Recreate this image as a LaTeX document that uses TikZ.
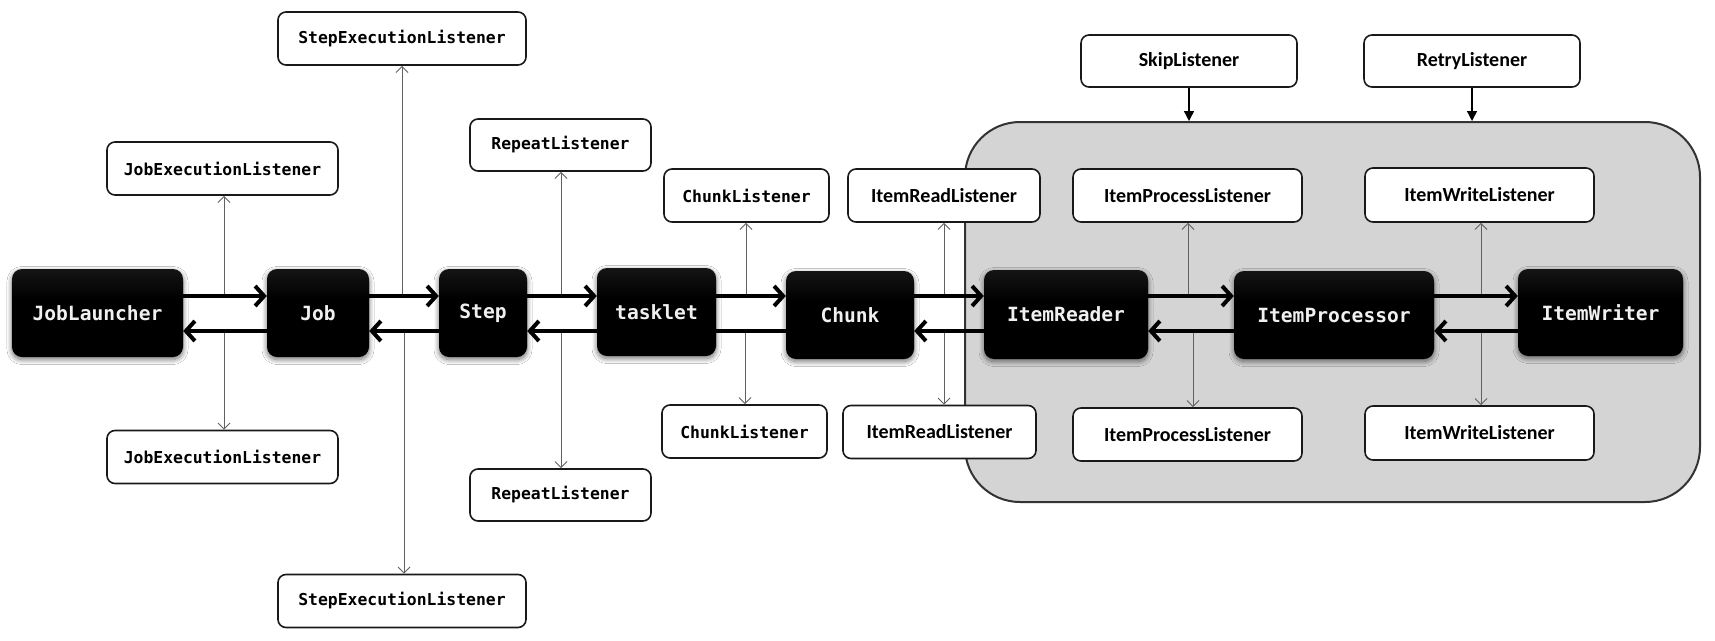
\documentclass[tikz,border=0pt]{standalone}
\usepackage{fontspec}
\setmonofont{DejaVu Sans Mono}
\newfontfamily\calfont{Carlito}
\usetikzlibrary{arrows.meta,shadows.blur}
\pgfdeclareverticalshading{darkshade}{100bp}{color(0bp)=(black); color(58bp)=(black); color(100bp)=(black!80)}
\begin{document}
\begin{tikzpicture}[x=1pt,y=-1pt,
  darkbox/.style={rounded corners=10pt, shading=darkshade, inner sep=0pt,
    text=white!94!black, font=\ttfamily\bfseries\fontsize{19.6}{22}\selectfont,
    blur shadow={shadow xshift=0pt,shadow yshift=-2.5pt,shadow blur radius=5pt,shadow opacity=55,shadow blur steps=10}},
  lbox/.style={draw=black!90, line width=1.6pt, fill=white, rounded corners=8pt, inner sep=0pt,
    minimum height=53pt, font=\ttfamily\bfseries\fontsize{16.4}{19}\selectfont},
  sbox/.style={lbox, font=\calfont\bfseries\fontsize{20}{24}\selectfont},
  fwd/.style={line width=4pt, -{Straight Barb[length=9pt,width=20pt]}},
  bwd/.style={line width=4pt, -{Straight Barb[length=9pt,width=20pt]}},
  plain/.style={line width=4pt},
  conn/.style={line width=1pt, draw=black!62},
  tipu/.style={conn, {Straight Barb[length=6pt,width=12pt]}-},
  tipd/.style={conn, -{Straight Barb[length=6pt,width=12pt]}},
  skiparrow/.style={line width=1.4pt, -{Triangle[length=10pt,width=10pt]}}
]
\fill[white] (0,0) rectangle (1715,640);
\useasboundingbox (0,0) rectangle (1715,640);
\coordinate (fy) at (0,296);
\coordinate (by) at (0,331);

% chunk area
\node[draw=black!80, line width=2pt, fill=black!17, rounded corners=55pt,
  minimum width=735pt, minimum height=380pt, inner sep=0pt] (area) at (1332.5,312) {};

% listeners
\node[lbox, minimum width=248pt] (sel1) at (402,38.5) {StepExecutionListener};
\node[lbox, minimum width=248pt] (sel2) at (402,601) {StepExecutionListener};
\node[lbox, minimum width=231pt] (jel1) at (222.5,168.5) {JobExecutionListener};
\node[lbox, minimum width=231pt] (jel2) at (222.5,457) {JobExecutionListener};
\node[lbox, minimum width=181pt, minimum height=52pt] (rl1) at (560.5,145) {RepeatListener};
\node[lbox, minimum width=181pt, minimum height=52pt] (rl2) at (560.5,495) {RepeatListener};
\node[lbox, minimum width=165pt] (cl1) at (746.5,195.5) {ChunkListener};
\node[lbox, minimum width=165pt] (cl2) at (744.5,431.5) {ChunkListener};
\node[sbox, minimum width=192pt] (irl1) at (944,195.5) {ItemReadListener};
\node[sbox, minimum width=193pt] (irl2) at (939.5,432) {ItemReadListener};
\node[sbox, minimum width=229pt] (ipl1) at (1187.5,195.5) {ItemProcessListener};
\node[sbox, minimum width=229pt] (ipl2) at (1187.5,434.5) {ItemProcessListener};
\node[sbox, minimum width=229pt, minimum height=54pt] (iwl1) at (1479.5,195) {ItemWriteListener};
\node[sbox, minimum width=229pt, minimum height=54pt] (iwl2) at (1479.5,433) {ItemWriteListener};
\node[sbox, minimum width=216pt, minimum height=52pt] (skip) at (1189,61) {SkipListener};
\node[sbox, minimum width=216pt, minimum height=52pt] (retry) at (1472,61) {RetryListener};

% main components
\node[darkbox, minimum width=171pt, minimum height=88pt] (jl) at (97.5,313) {JobLauncher};
\node[darkbox, minimum width=102pt, minimum height=88pt] (job) at (318,313) {Job};
\node[darkbox, minimum width=88pt, minimum height=88pt] (step) at (483,313) {Step};
\node[darkbox, minimum width=119pt, minimum height=88pt] (tasklet) at (656.5,312) {tasklet};
\node[darkbox, minimum width=128pt, minimum height=88pt] (chunk) at (850,315) {Chunk};
\node[darkbox, minimum width=164pt, minimum height=89pt] (reader) at (1066,314.5) {ItemReader};
\node[darkbox, minimum width=200pt, minimum height=88pt] (proc) at (1334,315) {ItemProcessor};
\node[darkbox, minimum width=165pt, minimum height=87pt] (writer) at (1600.5,312.5) {ItemWriter};

% listener connectors
\draw[tipu] (224,0 |- jel1.south) -- (224,0 |- fy);
\draw[tipd] (224,0 |- by) -- (224,0 |- jel2.north);
\draw[tipu] (402,0 |- sel1.south) -- (402,0 |- fy);
\draw[tipd] (404,0 |- by) -- (404,0 |- sel2.north);
\draw[tipu] (561,0 |- rl1.south) -- (561,0 |- fy);
\draw[tipd] (561,0 |- by) -- (561,0 |- rl2.north);
\draw[tipu] (746,0 |- cl1.south) -- (746,0 |- fy);
\draw[tipd] (745,0 |- by) -- (745,0 |- cl2.north);
\draw[tipu] (944,0 |- irl1.south) -- (944,0 |- fy);
\draw[tipd] (944,0 |- by) -- (944,0 |- irl2.north);
\draw[tipu] (1188,0 |- ipl1.south) -- (1188,0 |- fy);
\draw[tipd] (1193,0 |- by) -- (1193,0 |- ipl2.north);
\draw[tipu] (1481,0 |- iwl1.south) -- (1481,0 |- fy);
\draw[tipd] (1481,0 |- by) -- (1481,0 |- iwl2.north);

% skip / retry
\draw[skiparrow] (skip.south) -- (skip.south |- area.north);
\draw[skiparrow] (retry.south) -- (retry.south |- area.north);

% flow arrows
\draw[fwd] (jl.east |- fy) -- (job.west |- fy);
\draw[fwd] (job.east |- fy) -- (step.west |- fy);
\draw[fwd] (step.east |- fy) -- (tasklet.west |- fy);
\draw[fwd] (tasklet.east |- fy) -- (chunk.west |- fy);
\draw[fwd] (chunk.east |- fy) -- (reader.west |- fy);
\draw[fwd] (reader.east |- fy) -- (proc.west |- fy);
\draw[fwd] (proc.east |- fy) -- (writer.west |- fy);

\draw[bwd] (job.west |- by) -- (jl.east |- by);
\draw[bwd] (step.west |- by) -- (job.east |- by);
\draw[bwd] (tasklet.west |- by) -- (step.east |- by);
\draw[plain] (chunk.west |- by) -- (tasklet.east |- by);
\draw[bwd] (reader.west |- by) -- (chunk.east |- by);
\draw[bwd] (proc.west |- by) -- (reader.east |- by);
\draw[bwd] (writer.west |- by) -- (proc.east |- by);
\end{tikzpicture}
\end{document}
